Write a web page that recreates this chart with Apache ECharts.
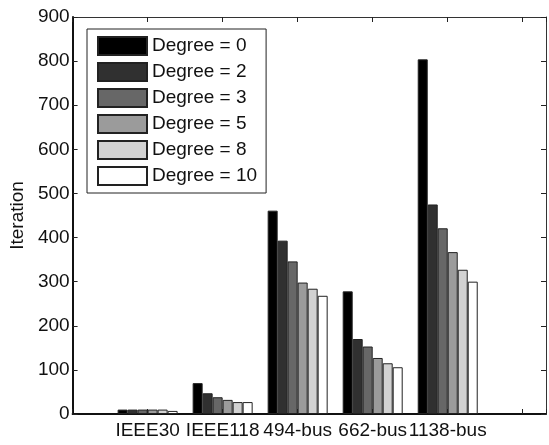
<!DOCTYPE html>
<html>
<head>
<meta charset="utf-8">
<script src="https://cdn.jsdelivr.net/npm/echarts@6/dist/echarts.min.js"></script>
<style>
  html, body { margin: 0; padding: 0; background: #fff; }
  #chart { width: 549px; height: 445px; }
</style>
</head>
<body>
<div id="chart"></div>
<script>
// test systems (x positions 1..5)
const categories = ["IEEE30", "IEEE118", "494-bus", "662-bus", "1138-bus"];
const degreeNames = ["Degree = 0", "Degree = 2", "Degree = 3", "Degree = 5", "Degree = 8", "Degree = 10"];

// iterations per degree, one value per system
const degree0 = [10, 70, 461, 278, 804];
const degree2 = [10, 47, 393, 170, 475];
const degree3 = [10, 38, 346, 153, 421];
const degree5 = [10, 32, 298, 127, 367];
const degree8 = [10, 27, 284, 115, 327];
const degree10 = [7, 27, 268, 106, 300];

const yTicks = [0, 100, 200, 300, 400, 500, 600, 700, 800, 900];

const allSeries = [degree0, degree2, degree3, degree5, degree8, degree10];
const fills = ["#000000", "#303030", "#676767", "#9b9b9b", "#d2d2d2", "#ffffff"];
const font = "Liberation Sans, Arial, sans-serif";

const chart = echarts.init(document.getElementById("chart"));

// ticks point into the plot like matlab
const tickIn = { show: true, inside: true, length: 5, lineStyle: { color: "#222" } };

const option = {
  backgroundColor: "#fff",
  animation: false,
  grid: { left: 72, right: 1, top: 17, bottom: 31 },
  legend: {
    orient: "vertical",
    left: 87,
    top: 29,
    data: degreeNames,
    icon: "rect",
    itemWidth: 49,
    itemHeight: 18,
    itemGap: 6,
    padding: [7, 9, 7, 10],
    borderColor: "#222",
    borderWidth: 1,
    backgroundColor: "#fff",
    textStyle: { fontFamily: font, fontSize: 19, lineHeight: 20, color: "#111" }
  },
  xAxis: [
    {
      type: "value",
      min: 0,
      max: 6.31,
      interval: 1,
      position: "bottom",
      splitLine: { show: false },
      axisLine: { onZero: false, lineStyle: { color: "#111", width: 2 } },
      axisTick: tickIn,
      axisLabel: {
        fontFamily: font, fontSize: 19, color: "#111", margin: 7,
        formatter: function (v) { return categories[v - 1] || ""; }
      }
    },
    {
      type: "value",
      min: 0,
      max: 6.31,
      interval: 1,
      position: "top",
      splitLine: { show: false },
      axisLine: { onZero: false, lineStyle: { color: "#333", width: 1 } },
      axisTick: tickIn,
      axisLabel: { show: false }
    }
  ],
  yAxis: [
    {
      type: "value",
      min: yTicks[0],
      max: yTicks[yTicks.length - 1],
      interval: 100,
      name: "Iteration",
      nameLocation: "middle",
      nameGap: 44,
      nameTextStyle: { fontFamily: font, fontSize: 19, color: "#111" },
      splitLine: { show: false },
      axisLine: { show: true, onZero: false, lineStyle: { color: "#111", width: 2 } },
      axisTick: tickIn,
      axisLabel: { fontFamily: font, fontSize: 19, color: "#111", margin: 3 }
    },
    {
      type: "value",
      min: yTicks[0],
      max: yTicks[yTicks.length - 1],
      interval: 100,
      position: "right",
      splitLine: { show: false },
      axisLine: { show: true, onZero: false, lineStyle: { color: "#333", width: 1 } },
      axisTick: tickIn,
      axisLabel: { show: false }
    }
  ],
  series: allSeries.map(function (vals, k) {
    return {
      name: degreeNames[k],
      type: "bar",
      barWidth: 10,
      barGap: "0%",
      itemStyle: { color: fills[k], borderColor: "#222", borderWidth: 1 },
      data: vals.map(function (v, i) { return [i + 1, v]; })
    };
  })
};

chart.setOption(option);
</script>
</body>
</html>
